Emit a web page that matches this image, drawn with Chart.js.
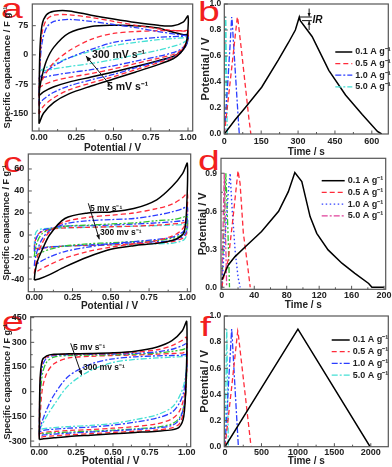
<!DOCTYPE html>
<html>
<head>
<meta charset="utf-8">
<script src="https://cdn.jsdelivr.net/npm/chart.js@4.4.0/dist/chart.umd.min.js"></script>
<style>
html, body { margin: 0; padding: 0; background: #fff; }
body { width: 392px; height: 467px; position: relative; overflow: hidden; }
canvas { position: absolute; }
.tag { position: absolute; color: #f2201e; font: 28px 'Liberation Sans', Arial, sans-serif; line-height: 1; transform-origin: left top; transform: scaleX(1.4); }
</style>
</head>
<body>
<div class="tag" style="left:1px;top:-5px">a</div>
<div class="tag" style="left:198px;top:-2px">b</div>
<div class="tag" style="left:3px;top:149px">c</div>
<div class="tag" style="left:198px;top:147px">d</div>
<div class="tag" style="left:2px;top:308px">e</div>
<div class="tag" style="left:200px;top:313px">f</div>
<canvas id="pa"></canvas>
<canvas id="pb"></canvas>
<canvas id="pc"></canvas>
<canvas id="pd"></canvas>
<canvas id="pe"></canvas>
<canvas id="pf"></canvas>
<script>
// ---------- data ----------
// CV loops: anodic sweep 0 -> 1 V, then cathodic sweep back to 0 V
const cvPotential = [0, 0.005, 0.02, 0.05, 0.1, 0.2, 0.35, 0.5, 0.65, 0.8, 0.9, 0.97, 1.0,
                     0.995, 0.98, 0.95, 0.9, 0.8, 0.65, 0.5, 0.35, 0.2, 0.1, 0.03, 0];
const scanRates = ['5', '10', '20', '50', '100', '200', '300'];   // mV s-1
const cvPotTicks = [0, 0.25, 0.5, 0.75, 1.0];

// panel a (F g-1)
const capA5   = [-177, 0, 76, 103, 112, 113, 102, 92, 83, 76, 75, 85, 100,  45, 22, 5, -10, -25, -44, -62, -80, -100, -122, -150, -177];
const capA10  = [-152, -30, 55, 90, 102, 103, 96, 86, 76, 67, 63, 61, 60,   40, 24, 8, -6, -20, -38, -56, -72, -90, -110, -132, -152];
const capA20  = [-128, -40, 30, 70, 86, 91, 86, 78, 70, 60, 54, 50, 49,     32, 20, 6, -5, -17, -33, -50, -64, -80, -96, -114, -128];
const capA50  = [-105, -85, -55, -15, 20, 56, 73, 76, 75, 69, 58, 52, 51,   33, 20, 7, -4, -15, -30, -44, -57, -70, -82, -95, -105];
const capA100 = [-85, -78, -65, -45, -20, 10, 40, 55, 60, 62, 62, 62, 62,   40, 26, 11, 1, -9, -22, -36, -48, -58, -67, -77, -85];
const capA200 = [-62, -58, -52, -42, -28, -8, 14, 32, 40, 45, 47, 48, 49,   34, 24, 14, 6, -4, -16, -28, -38, -46, -52, -58, -62];
const capA300 = [-43, -42, -38, -32, -24, -8, 10, 24, 32, 39, 42, 44, 45,   40, 34, 28, 22, 12, 0, -12, -22, -30, -36, -41, -43];
const capATicks = [-150, -75, 0, 75];

// panel c (F g-1)
const capC5   = [-41, -34, -24, -14, 0, 15, 20, 21, 24, 32, 44, 56, 65,     23, 3, -2, -5, -7.6, -9.7, -13, -20, -29, -36, -40, -41];
const capC10  = [-35, -30, -20, -8, 3, 12, 16, 18, 20, 24, 28, 34, 38,      18, 8, 3, -1, -5, -8, -11, -15, -21, -27, -32, -35];
const capC20  = [-28, -22, -14, -4, 4, 10, 13, 14, 15, 18, 21, 24, 26,      10, 4, 1, -2, -4, -6, -8, -11, -15, -20, -25, -28];
const capC50  = [-20, -14, -6, 1, 5, 8, 9, 10, 11, 13, 14, 16, 17,          6, 2, -1, -3, -5, -6, -7, -8, -10, -13, -17, -20];
const capC100 = [-15, -8, -1, 4, 6, 8, 8.5, 9, 10, 11, 12, 13, 14,          4, 0, -3, -5, -6, -7, -8, -9, -10, -11, -13, -15];
const capC200 = [-13, -6, 0, 3, 5, 6.5, 7, 7.5, 8, 9, 10, 11, 12,           2, -2, -4, -6, -7, -8, -9, -9.5, -10, -11, -12, -13];
const capC300 = [-11, 0, 4, 5.5, 6, 6.5, 7, 7.5, 8, 8.5, 9, 9.5, 10,        0, -4, -6, -7.5, -8, -8.5, -9, -9.5, -10, -10.5, -11, -11];
const capCTicks = [-40, -20, 0, 20, 40, 60];

// panel e (F g-1)
const capE5   = [-290, 60, 190, 218, 228, 230, 232, 236, 246, 272, 310, 370, 426,  50, -150, -215, -232, -240, -248, -256, -264, -272, -280, -286, -290];
const capE10  = [-278, 40, 178, 212, 224, 228, 230, 232, 240, 255, 280, 312, 330,  30, -120, -195, -220, -232, -240, -248, -255, -262, -268, -273, -278];
const capE20  = [-268, 0, 150, 205, 220, 225, 227, 229, 233, 242, 258, 280, 290,   40, -90, -170, -205, -220, -230, -238, -245, -252, -258, -263, -268];
const capE50  = [-260, -80, 100, 180, 210, 220, 222, 224, 228, 235, 245, 255, 260, 20, -90, -160, -195, -215, -226, -234, -240, -246, -250, -255, -260];
const capE100 = [-255, -170, 10, 110, 170, 205, 215, 220, 223, 228, 232, 235, 240, 60, -40, -120, -165, -195, -212, -222, -230, -236, -242, -248, -255];
const capE200 = [-245, -225, -180, -110, -20, 95, 168, 200, 212, 218, 220, 222, 225, 100, 0, -70, -125, -160, -185, -203, -215, -222, -228, -235, -245];
const capE300 = [-232, -222, -200, -150, -80, 40, 130, 178, 196, 205, 210, 213, 215, 120, 40, -30, -95, -140, -170, -193, -205, -212, -218, -225, -232];
const capETicks = [-300, -150, 0, 150, 300, 450];

// galvanostatic charge/discharge
const currents = ['0.1', '0.5', '1.0', '5.0'];   // A g-1
// panel b
const bTime01 = [0, 44, 84, 152, 220, 260, 289, 305, 309, 357, 425, 493, 561, 623, 640];
const bPot01  = [0, 0.11, 0.2, 0.36, 0.57, 0.7, 0.8, 0.9, 0.872, 0.75, 0.49, 0.3, 0.15, 0.02, 0];
const bTime05 = [0, 12, 25, 40, 53, 56, 70, 85, 100, 108];
const bPot05  = [0, 0.2, 0.42, 0.68, 0.9, 0.87, 0.64, 0.38, 0.12, 0];
const bTime10 = [0, 8, 16, 24, 30, 32, 40, 50, 58, 61];
const bPot10  = [0, 0.22, 0.45, 0.7, 0.9, 0.87, 0.62, 0.32, 0.08, 0];
const bTime50 = [0, 3, 5.5, 6.5, 9, 12];
const bPot50  = [0, 0.45, 0.9, 0.86, 0.45, 0];
const bTimeTicks = [0, 150, 300, 450, 600];
const bPotTicks = [0, 0.2, 0.4, 0.6, 0.8, 1.0];
// panel d
const dTime01 = [0, 8, 16, 29, 49, 70, 82, 90, 98.6, 108.8, 117, 131, 148, 164, 181, 185, 200];
const dPot01  = [0.058, 0.176, 0.24, 0.32, 0.44, 0.6, 0.755, 0.905, 0.834, 0.558, 0.426, 0.295, 0.19, 0.11, 0.03, 0, 0];
const dTime05 = [0, 2, 8, 14, 20, 22.5, 26.5, 32, 35];
const dPot05  = [0, 0.07, 0.22, 0.56, 0.92, 0.82, 0.43, 0.16, 0];
const dTime10 = [0, 4, 8, 10.3, 12.3, 16.4, 20, 22.6];
const dPot10  = [0, 0.4, 0.75, 0.9, 0.66, 0.29, 0.08, 0];
const dTime50 = [0, 1.5, 3, 4.5, 6];
const dPot50  = [0, 0.45, 0.9, 0.45, 0];
const dTimeX  = [0, 2.5, 5, 7.5, 9.5];      // extra unlabeled trace
const dPotX   = [0, 0.45, 0.9, 0.45, 0];
const dTimeTicks = [0, 40, 80, 120, 160, 200];
const dPotTicks = [0, 0.3, 0.6, 0.9];
// panel f
const fTime01 = [0, 1000, 1990];
const fPot01  = [0, 0.9, 0];
const fTime05 = [0, 90, 174, 180, 270, 357];
const fPot05  = [0, 0.45, 0.885, 0.87, 0.43, 0];
const fTime10 = [0, 45, 91, 95, 140, 183];
const fPot10  = [0, 0.45, 0.9, 0.87, 0.42, 0];
const fTime50 = [0, 23, 25, 46];
const fPot50  = [0, 0.9, 0.87, 0];
const fTimeTicks = [0, 500, 1000, 1500, 2000];
const fPotTicks = [0, 0.2, 0.4, 0.6, 0.8, 1.0];

// ---------- styles ----------
const FONT = "'Liberation Sans', Arial, Helvetica, sans-serif";
const INK = '#222';
const BLACK = {c: '#000', d: [], w: 1.5};
const RED = {c: '#ff2b3a', d: [5, 3], w: 1.3};
const BLUE = {c: '#2b3dff', d: [6, 2, 2, 2], w: 1.3};
const CYAN = {c: '#45e0d5', d: [6, 2, 2, 2], w: 1.3};
const GREEN = {c: '#2fc42f', d: [6, 2, 2, 2, 2, 2], w: 1.3};
const DOTBLUE = {c: '#3040ff', d: [1.5, 2.5], w: 1.4};
const PINK = {c: '#e0409a', d: [6, 2, 2, 2], w: 1.3};

Chart.defaults.font.family = FONT;
Chart.defaults.color = INK;

function cvSets(series, styles) {
  return series.map((vals, i) => ({
    label: scanRates[i] + ' mV s\u207B\u00B9',
    data: vals.map((v, k) => ({x: cvPotential[k], y: v})),
    showLine: true, borderColor: styles[i].c, borderDash: styles[i].d, borderWidth: styles[i].w,
    pointRadius: 0, tension: 0.3
  }));
}

function gcdSet(label, t, v, st, noLegend) {
  return {
    label: label ? label + ' A g\u207B\u00B9' : '',
    noLegend: !!noLegend,
    data: t.map((x, k) => ({x: x, y: v[k]})),
    showLine: true, borderColor: st.c, borderDash: st.d, borderWidth: st.w,
    pointRadius: 0, tension: 0
  };
}

function withMinors(majors) {
  const out = majors.map(v => ({value: v}));
  for (let i = 0; i < majors.length - 1; i++) out.push({value: (majors[i] + majors[i + 1]) / 2, minor: true});
  return out;
}

// frame box + inward ticks
const framePlugin = {
  id: 'frame',
  afterDatasetsDraw(chart) {
    const {ctx, chartArea: a, scales} = chart;
    ctx.save();
    ctx.strokeStyle = '#555';
    ctx.lineWidth = 1.2;
    ctx.strokeRect(a.left, a.top, a.width, a.height);
    ctx.lineWidth = 1;
    ctx.beginPath();
    scales.x.ticks.forEach(t => {
      const p = scales.x.getPixelForValue(t.value);
      ctx.moveTo(p, a.bottom); ctx.lineTo(p, a.bottom - (t.minor ? 2 : 3.5));
    });
    scales.y.ticks.forEach(t => {
      const p = scales.y.getPixelForValue(t.value);
      ctx.moveTo(a.left, p); ctx.lineTo(a.left + (t.minor ? 2 : 3.5), p);
    });
    ctx.stroke();
    ctx.restore();
  }
};

// legend drawn inside the plot frame
const legendPlugin = {
  id: 'inLegend',
  afterDraw(chart, args, o) {
    if (!o || o.x === undefined) return;
    const {ctx, chartArea: a} = chart;
    let row = 0;
    chart.data.datasets.forEach(ds => {
      if (ds.noLegend) return;
      const y = a.top + o.y + row * o.dy;
      const x = a.left + o.x;
      ctx.save();
      ctx.strokeStyle = ds.borderColor;
      ctx.lineWidth = ds.borderWidth;
      ctx.setLineDash(ds.borderDash || []);
      ctx.beginPath(); ctx.moveTo(x, y); ctx.lineTo(x + o.len, y); ctx.stroke();
      ctx.setLineDash([]);
      ctx.fillStyle = INK;
      ctx.font = 'bold 9px ' + FONT;
      ctx.textBaseline = 'middle';
      ctx.fillText(ds.label, x + o.len + 3, y);
      ctx.restore();
      row++;
    });
  }
};

// text / arrow annotations in data coordinates
const notesPlugin = {
  id: 'notes',
  afterDatasetsDraw(chart, args, o) {
    if (!o) return;
    const {ctx, scales: {x, y}} = chart;
    const X = v => x.getPixelForValue(v), Y = v => y.getPixelForValue(v);
    ctx.save();
    ctx.strokeStyle = '#111'; ctx.fillStyle = '#111'; ctx.lineWidth = 1;
    (o.lines || []).forEach(l => {
      ctx.beginPath(); ctx.moveTo(X(l[0]), Y(l[1])); ctx.lineTo(X(l[2]), Y(l[3])); ctx.stroke();
    });
    (o.arrows || []).forEach(l => {
      const x1 = X(l[0]), y1 = Y(l[1]), x2 = X(l[2]), y2 = Y(l[3]);
      const ang = Math.atan2(y2 - y1, x2 - x1), h = l[4] || 5;
      ctx.beginPath(); ctx.moveTo(x1, y1); ctx.lineTo(x2, y2); ctx.stroke();
      ctx.beginPath();
      ctx.moveTo(x2, y2);
      ctx.lineTo(x2 - h * Math.cos(ang - 0.4), y2 - h * Math.sin(ang - 0.4));
      ctx.lineTo(x2 - h * Math.cos(ang + 0.4), y2 - h * Math.sin(ang + 0.4));
      ctx.closePath(); ctx.fill();
    });
    (o.texts || []).forEach(t => {
      ctx.font = t.font;
      ctx.textBaseline = 'middle'; ctx.textAlign = 'left';
      ctx.fillText(t.text, X(t.x), Y(t.y));
    });
    ctx.restore();
  }
};

function makePanel(id, box, area, cfg) {
  const cv = document.getElementById(id);
  cv.width = box.w; cv.height = box.h;
  cv.style.left = box.x + 'px'; cv.style.top = box.y + 'px';
  return new Chart(cv, {
    type: 'scatter',
    data: {datasets: cfg.datasets},
    options: {
      responsive: false, animation: false, devicePixelRatio: 1,
      layout: {padding: {left: 0, bottom: 0, top: area.y0 - box.y, right: box.x + box.w - area.x1}},
      plugins: {
        legend: {display: false}, tooltip: {enabled: false},
        inLegend: cfg.legend || {}, notes: cfg.notes || {}
      },
      scales: {
        x: {
          type: 'linear', min: cfg.xMin, max: cfg.xMax,
          grid: {display: false, drawTicks: false}, border: {display: false},
          ticks: {autoSkip: false, maxRotation: 0, padding: cfg.xPad, font: {size: 9, weight: 'bold'}, color: INK,
                  callback: (v, i, t) => t[i].minor ? '' : cfg.xFmt(v)},
          afterBuildTicks: s => { s.ticks = withMinors(cfg.xTicks); },
          afterFit: s => { s.height = box.y + box.h - area.y1; s.paddingLeft = 0; s.paddingRight = 0; },
          title: {display: true, text: cfg.xTitle, font: {size: 10, weight: 'bold'}, padding: 0, color: INK}
        },
        y: {
          type: 'linear', min: cfg.yMin, max: cfg.yMax,
          grid: {display: false, drawTicks: false}, border: {display: false},
          ticks: {autoSkip: false, padding: cfg.yPad, font: {size: cfg.yTickSize || 9, weight: 'bold'}, color: INK,
                  callback: (v, i, t) => t[i].minor ? '' : cfg.yFmt(v)},
          afterBuildTicks: s => { s.ticks = withMinors(cfg.yTicks); },
          afterFit: s => { s.width = area.x0 - box.x; s.paddingTop = 0; s.paddingBottom = 0; },
          title: {display: true, text: cfg.yTitle, font: {size: cfg.yTitleSize, weight: 'bold'}, padding: 0, color: INK}
        }
      }
    },
    plugins: [framePlugin, legendPlugin, notesPlugin]
  });
}

const fmt2 = v => v.toFixed(2);
const fmt1 = v => v.toFixed(1);
const fmt0 = v => String(v);
const CAP_TITLE = 'Specific capacitance / F g\u207B\u00B9';
const SUP = ' s\u207B\u00B9';

// ---------- panels ----------
makePanel('pa', {x: 2, y: -4, w: 198, h: 158}, {x0: 32.3, y0: 4, x1: 192.7, y1: 131}, {
  datasets: cvSets([capA5, capA10, capA20, capA50, capA100, capA200, capA300],
                   [BLACK, RED, BLUE, BLACK, RED, BLUE, CYAN]),
  xMin: -0.045, xMax: 1.0315, xTicks: cvPotTicks, xFmt: fmt2, xPad: 1, xTitle: 'Potential / V',
  yMin: -195.5, yMax: 130.7, yTicks: capATicks, yFmt: fmt0, yPad: 4, yTitle: CAP_TITLE, yTitleSize: 9.5,
  notes: {
    arrows: [[0.477, -77.6, 0.315, -2.6, 6]],
    texts: [
      {text: '300 mV' + SUP, x: 0.356, y: 0, font: 'bold 10.5px ' + FONT},
      {text: '5 mV' + SUP, x: 0.456, y: -83, font: 'bold 10.5px ' + FONT}
    ]
  }
});

makePanel('pb', {x: 199, y: -4, w: 193, h: 162}, {x0: 224.3, y0: 4, x1: 388.3, y1: 134}, {
  datasets: [
    gcdSet(currents[0], bTime01, bPot01, BLACK),
    gcdSet(currents[1], bTime05, bPot05, RED),
    gcdSet(currents[2], bTime10, bPot10, BLUE),
    gcdSet(currents[3], bTime50, bPot50, CYAN)
  ],
  xMin: 0, xMax: 667, xTicks: bTimeTicks, xFmt: fmt0, xPad: 2, xTitle: 'Time / s',
  yMin: 0, yMax: 1.0, yTicks: bPotTicks, yFmt: fmt1, yPad: 3, yTickSize: 8.5, yTitle: 'Potential / V', yTitleSize: 11,
  legend: {x: 111, y: 48, dy: 11.6, len: 17},
  notes: {
    lines: [[305, 0.9, 356, 0.9], [316, 0.872, 356, 0.872]],
    arrows: [[345, 0.965, 345, 0.903, 4], [345, 0.8, 345, 0.869, 4]],
    texts: [{text: 'IR', x: 359, y: 0.875, font: 'italic bold 10px ' + FONT}]
  }
});

makePanel('pc', {x: 1, y: 150, w: 199, h: 162}, {x0: 28.3, y0: 154, x1: 190.7, y1: 291.7}, {
  datasets: cvSets([capC5, capC10, capC20, capC50, capC100, capC200, capC300],
                   [BLACK, RED, BLUE, GREEN, BLUE, RED, CYAN]),
  xMin: -0.039, xMax: 1.022, xTicks: cvPotTicks, xFmt: fmt2, xPad: 0, xTitle: 'Potential / V',
  yMin: -51.5, yMax: 73.6, yTicks: capCTicks, yFmt: fmt0, yPad: 4, yTitle: CAP_TITLE, yTitleSize: 9,
  notes: {
    arrows: [[0.353, 28.8, 0.425, -3.9, 5]],
    texts: [
      {text: '5 mv' + SUP, x: 0.364, y: 24.3, font: 'bold 8.5px ' + FONT},
      {text: '300 mv' + SUP, x: 0.429, y: 2.5, font: 'bold 8.5px ' + FONT}
    ]
  }
});

makePanel('pd', {x: 196, y: 150, w: 196, h: 161}, {x0: 221, y0: 158.3, x1: 385.7, y1: 289.3}, {
  datasets: [
    gcdSet(currents[0], dTime01, dPot01, BLACK),
    gcdSet(currents[1], dTime05, dPot05, RED),
    gcdSet(currents[2], dTime10, dPot10, DOTBLUE),
    gcdSet(currents[3], dTime50, dPot50, PINK),
    gcdSet('', dTimeX, dPotX, GREEN, true)
  ],
  xMin: -1, xMax: 202, xTicks: dTimeTicks, xFmt: fmt0, xPad: 1, xTitle: 'Time / s',
  yMin: -0.016, yMax: 1.018, yTicks: dPotTicks, yFmt: fmt1, yPad: 4, yTickSize: 8.5, yTitle: 'Potential / V', yTitleSize: 11,
  legend: {x: 100.7, y: 22.4, dy: 11.7, len: 23}
});

makePanel('pe', {x: 2, y: 305, w: 198, h: 162}, {x0: 30.7, y0: 316.7, x1: 190.7, y1: 446.7}, {
  datasets: cvSets([capE5, capE10, capE20, capE50, capE100, capE200, capE300],
                   [BLACK, RED, BLUE, GREEN, RED, BLUE, CYAN]),
  xMin: -0.058, xMax: 1.027, xTicks: cvPotTicks, xFmt: fmt2, xPad: 0, xTitle: 'Potential / V',
  yMin: -334.3, yMax: 455.8, yTicks: capETicks, yFmt: fmt0, yPad: 4, yTitle: CAP_TITLE, yTitleSize: 9,
  notes: {
    arrows: [[0.213, 294, 0.288, 101, 5]],
    texts: [
      {text: '5 mv' + SUP, x: 0.229, y: 267, font: 'bold 8.5px ' + FONT},
      {text: '300 mv' + SUP, x: 0.297, y: 148, font: 'bold 8.5px ' + FONT}
    ]
  }
});

makePanel('pf', {x: 198, y: 305, w: 194, h: 162}, {x0: 224.3, y0: 316, x1: 388.3, y1: 446.7}, {
  datasets: [
    gcdSet(currents[0], fTime01, fPot01, BLACK),
    gcdSet(currents[1], fTime05, fPot05, RED),
    gcdSet(currents[2], fTime10, fPot10, BLUE),
    gcdSet(currents[3], fTime50, fPot50, CYAN)
  ],
  xMin: -10, xMax: 2240, xTicks: fTimeTicks, xFmt: fmt0, xPad: 0, xTitle: 'Time / s',
  yMin: 0, yMax: 1.0, yTicks: fPotTicks, yFmt: fmt1, yPad: 3, yTickSize: 8.5, yTitle: 'Potential / V', yTitleSize: 11,
  legend: {x: 107.4, y: 24, dy: 11.7, len: 18}
});
</script>
</body>
</html>
